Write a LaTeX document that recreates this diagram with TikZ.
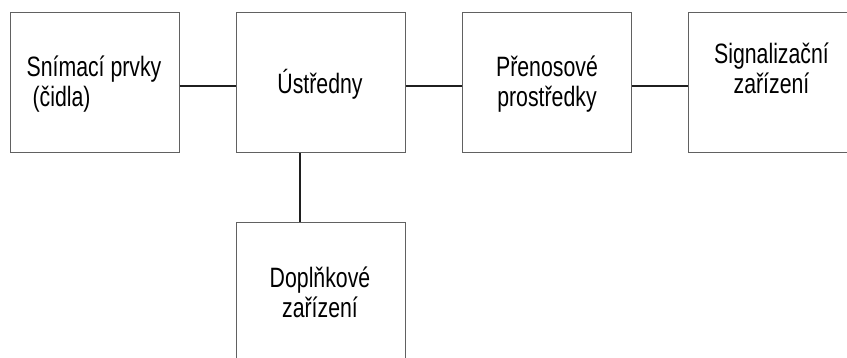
\documentclass[tikz,border=0pt]{standalone}
\usepackage{fontspec}
\setmainfont[FakeStretch=0.76]{Liberation Sans}
\begin{document}
\begin{tikzpicture}[x=1pt, y=-1pt,
  blockbox/.style={draw=black!62, line width=1pt, rectangle,
    minimum width=169pt, minimum height=140pt, inner sep=0pt, anchor=center},
  caption/.style={font=\fontsize{28}{30}\selectfont, align=center, inner sep=0pt},
  link/.style={draw=black!88, line width=2pt}]
  \useasboundingbox (0,0) rectangle (847,358);
  \clip (0,0) rectangle (847,358);

  % blocks
  \node[blockbox] (b1) at (94.5,83) {};
  \node[blockbox] (b2) at (320.5,83) {};
  \node[blockbox] (b3) at (547,83) {};
  \node[blockbox] (b4) at (772.5,83) {};
  \node[blockbox] (b5) at (320.5,293) {};

  % captions
  \node[caption, align=left] (t1) at (94,84) {Snímací prvky\\\hspace{6pt}(čidla)};
  \node[caption] (t2) at (320,84) {Ústředny};
  \node[caption] (t3) at (547,84) {Přenosové\\prostředky};
  \node[caption] (t4) at (771.5,68) {Signalizační\\zařízení};
  \node[caption] (t5) at (320,292) {Doplňkové\\zařízení};

  % connections
  \draw[link] ([yshift=-3pt]b1.east) -- ([yshift=-3pt]b2.west);
  \draw[link] ([yshift=-3pt]b2.east) -- ([yshift=-3pt]b3.west);
  \draw[link] ([yshift=-3pt]b3.east) -- ([yshift=-3pt]b4.west);
  \draw[link] ([xshift=-21pt]b2.south) -- ([xshift=-21pt]b5.north);
\end{tikzpicture}
\end{document}
